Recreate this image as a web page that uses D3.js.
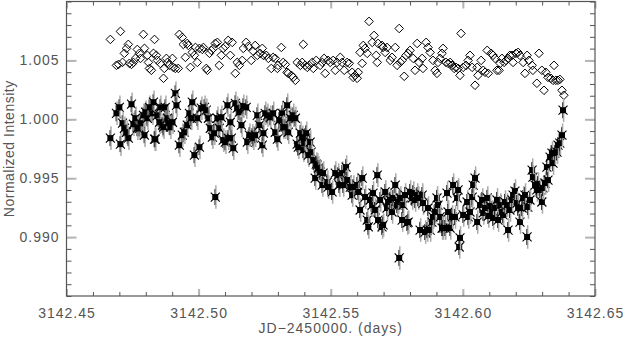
<!DOCTYPE html>
<html>
<head>
<meta charset="utf-8">
<script src="https://cdn.jsdelivr.net/npm/d3@7"></script>
<style>
  body { margin: 0; background: #fff; }
  svg { display: block; }
  text { font-family: "Liberation Sans", Arial, sans-serif; fill: #555; }
</style>
</head>
<body>
<svg id="chart" width="623" height="337"></svg>
<script>
// target star: [JD-2450000, normalized intensity]
var targetObs = [
  [3142.4666,0.99840],[3142.4689,1.00051],[3142.4700,1.00102],[3142.4704,0.99789],[3142.4712,0.99967],
  [3142.4719,0.99924],[3142.4727,0.99890],[3142.4734,0.99840],[3142.4746,1.00128],[3142.4753,0.99958],
  [3142.4761,1.00009],[3142.4768,0.99924],[3142.4776,0.99924],[3142.4780,0.99967],[3142.4791,1.00034],
  [3142.4795,0.99865],[3142.4799,1.00060],[3142.4806,1.00009],[3142.4814,1.00102],[3142.4825,1.00051],
  [3142.4829,1.00145],[3142.4833,0.99831],[3142.4836,0.99831],[3142.4844,1.00034],[3142.4852,0.99975],
  [3142.4855,1.00102],[3142.4863,0.99950],[3142.4867,0.99933],[3142.4874,1.00102],[3142.4882,1.00009],
  [3142.4886,0.99967],[3142.4893,0.99933],[3142.4901,0.99975],[3142.4912,1.00221],[3142.4916,1.00119],
  [3142.4927,0.99780],[3142.4938,0.99865],[3142.4946,0.99890],[3142.4957,0.99950],[3142.4965,1.00051],
  [3142.4972,1.00009],[3142.4976,1.00145],[3142.4984,0.99696],[3142.4995,1.00009],[3142.5003,0.99763],
  [3142.5010,1.00094],[3142.5022,1.00102],[3142.5029,1.00077],[3142.5037,1.00009],[3142.5044,0.99924],
  [3142.5052,0.99848],[3142.5059,0.99882],[3142.5063,0.99340],[3142.5071,1.00009],[3142.5078,0.99924],
  [3142.5086,1.00017],[3142.5093,0.99823],[3142.5101,0.99806],[3142.5109,1.00119],[3142.5112,0.99840],
  [3142.5120,0.99975],[3142.5124,0.99840],[3142.5131,0.99755],[3142.5139,1.00136],[3142.5146,1.00094],
  [3142.5154,1.00060],[3142.5162,0.99950],[3142.5169,1.00111],[3142.5180,1.00102],[3142.5184,0.99806],
  [3142.5192,0.99865],[3142.5203,0.99857],[3142.5207,0.99840],[3142.5214,0.99865],[3142.5222,1.00034],
  [3142.5230,0.99950],[3142.5241,0.99780],[3142.5245,0.99882],[3142.5252,1.00051],[3142.5260,1.00034],
  [3142.5271,1.00017],[3142.5282,1.00051],[3142.5290,0.99890],[3142.5298,0.99831],[3142.5305,0.99992],
  [3142.5316,1.00051],[3142.5320,0.99933],[3142.5328,0.99933],[3142.5335,1.00119],[3142.5339,0.99890],
  [3142.5347,1.00009],[3142.5358,1.00034],[3142.5366,1.00009],[3142.5373,0.99789],[3142.5377,0.99763],
  [3142.5385,0.99882],[3142.5392,0.99848],[3142.5396,0.99738],[3142.5400,0.99797],[3142.5403,0.99840],
  [3142.5407,0.99882],[3142.5415,0.99696],[3142.5422,0.99806],[3142.5426,0.99721],[3142.5434,0.99653],
  [3142.5441,0.99501],[3142.5445,0.99620],[3142.5449,0.99611],[3142.5453,0.99586],[3142.5460,0.99552],
  [3142.5468,0.99442],[3142.5471,0.99543],[3142.5487,0.99467],[3142.5490,0.99425],[3142.5505,0.99383],
  [3142.5517,0.99543],[3142.5528,0.99526],[3142.5532,0.99442],[3142.5543,0.99543],[3142.5547,0.99442],
  [3142.5558,0.99594],[3142.5562,0.99484],[3142.5574,0.99425],[3142.5581,0.99357],[3142.5585,0.99425],
  [3142.5600,0.99442],[3142.5604,0.99383],[3142.5611,0.99230],[3142.5619,0.99501],[3142.5630,0.99340],
  [3142.5638,0.99145],[3142.5642,0.99086],[3142.5649,0.99315],[3142.5657,0.99272],[3142.5660,0.99374],
  [3142.5668,0.99230],[3142.5676,0.99526],[3142.5679,0.99145],[3142.5687,0.99315],[3142.5694,0.99086],
  [3142.5698,0.99103],[3142.5706,0.99383],[3142.5713,0.99247],[3142.5717,0.99298],[3142.5725,0.99315],
  [3142.5732,0.99213],[3142.5736,0.99332],[3142.5744,0.99442],[3142.5751,0.99272],[3142.5755,0.99298],
  [3142.5759,0.98823],[3142.5763,0.99332],[3142.5770,0.99145],[3142.5774,0.99272],[3142.5781,0.99357],
  [3142.5789,0.99120],[3142.5793,0.99128],[3142.5800,0.99383],[3142.5808,0.99332],[3142.5812,0.99374],
  [3142.5819,0.99315],[3142.5827,0.99357],[3142.5831,0.99332],[3142.5838,0.99060],[3142.5846,0.99357],
  [3142.5849,0.99289],[3142.5857,0.99043],[3142.5865,0.99060],[3142.5868,0.99247],[3142.5876,0.99060],
  [3142.5883,0.99128],[3142.5887,0.99171],[3142.5895,0.99213],[3142.5902,0.99332],[3142.5906,0.99272],
  [3142.5914,0.99171],[3142.5921,0.99077],[3142.5925,0.99077],[3142.5933,0.99077],[3142.5940,0.99374],
  [3142.5944,0.99213],[3142.5952,0.99077],[3142.5959,0.99171],[3142.5963,0.99442],[3142.5970,0.99171],
  [3142.5978,0.99332],[3142.5982,0.99400],[3142.5986,0.98916],[3142.5989,0.98993],[3142.6001,0.99188],
  [3142.6016,0.99298],[3142.6020,0.99171],[3142.6027,0.99213],[3142.6035,0.99340],[3142.6039,0.99442],
  [3142.6046,0.99501],[3142.6054,0.99128],[3142.6065,0.99272],[3142.6073,0.99315],[3142.6077,0.99205],
  [3142.6084,0.99247],[3142.6092,0.99332],[3142.6096,0.99179],[3142.6103,0.99264],[3142.6111,0.99213],
  [3142.6114,0.99162],[3142.6122,0.99247],[3142.6129,0.99315],[3142.6133,0.99145],[3142.6141,0.99272],
  [3142.6148,0.99213],[3142.6152,0.99188],[3142.6159,0.99298],[3142.6167,0.99272],[3142.6171,0.99060],
  [3142.6178,0.99230],[3142.6186,0.99315],[3142.6190,0.99357],[3142.6197,0.99391],[3142.6205,0.99289],
  [3142.6209,0.99247],[3142.6216,0.99128],[3142.6224,0.99247],[3142.6228,0.99332],[3142.6235,0.99357],
  [3142.6243,0.99001],[3142.6246,0.99255],[3142.6254,0.99315],[3142.6262,0.99569],[3142.6265,0.99509],
  [3142.6273,0.99442],[3142.6280,0.99400],[3142.6284,0.99450],[3142.6292,0.99400],[3142.6299,0.99298],
  [3142.6303,0.99417],[3142.6311,0.99459],[3142.6318,0.99594],[3142.6322,0.99484],[3142.6330,0.99679],
  [3142.6337,0.99713],[3142.6341,0.99628],[3142.6348,0.99713],[3142.6356,0.99721],[3142.6360,0.99780],
  [3142.6367,0.99797],[3142.6375,0.99865],[3142.6379,1.00077]
];

// comparison star (offset), [JD-2450000, normalized intensity]
var compObs = [
  [3142.4666,1.00678],[3142.4689,1.00458],[3142.4697,1.00466],[3142.4704,1.00746],[3142.4712,1.00483],
  [3142.4719,1.00560],[3142.4727,1.00602],[3142.4734,1.00636],[3142.4738,1.00475],[3142.4746,1.00466],
  [3142.4753,1.00483],[3142.4761,1.00517],[3142.4768,1.00593],[3142.4776,1.00560],[3142.4780,1.00517],
  [3142.4791,1.00721],[3142.4795,1.00602],[3142.4806,1.00543],[3142.4810,1.00483],[3142.4814,1.00432],
  [3142.4821,1.00416],[3142.4829,1.00560],[3142.4833,1.00678],[3142.4840,1.00543],[3142.4844,1.00500],
  [3142.4855,1.00475],[3142.4867,1.00348],[3142.4870,1.00432],[3142.4878,1.00517],[3142.4882,1.00483],
  [3142.4889,1.00458],[3142.4901,1.00517],[3142.4904,1.00441],[3142.4912,1.00432],[3142.4923,1.00432],
  [3142.4927,1.00721],[3142.4938,1.00695],[3142.4942,1.00636],[3142.4950,1.00526],[3142.4957,1.00644],
  [3142.4961,1.00627],[3142.4969,1.00441],[3142.4976,1.00568],[3142.4984,1.00543],[3142.4988,1.00610],
  [3142.4995,1.00483],[3142.5003,1.00602],[3142.5014,1.00593],[3142.5018,1.00610],[3142.5029,1.00432],
  [3142.5033,1.00416],[3142.5041,1.00560],[3142.5048,1.00585],[3142.5056,1.00602],[3142.5063,1.00644],
  [3142.5071,1.00653],[3142.5078,1.00458],[3142.5086,1.00543],[3142.5093,1.00602],[3142.5101,1.00619],
  [3142.5112,1.00670],[3142.5120,1.00543],[3142.5127,1.00653],[3142.5139,1.00390],[3142.5146,1.00483],
  [3142.5154,1.00458],[3142.5165,1.00500],[3142.5169,1.00602],[3142.5180,1.00653],[3142.5188,1.00619],
  [3142.5199,1.00500],[3142.5207,1.00577],[3142.5214,1.00627],[3142.5222,1.00543],[3142.5233,1.00560],
  [3142.5241,1.00602],[3142.5245,1.00543],[3142.5256,1.00543],[3142.5264,1.00517],[3142.5275,1.00432],
  [3142.5282,1.00526],[3142.5290,1.00517],[3142.5298,1.00432],[3142.5301,1.00458],[3142.5313,1.00610],
  [3142.5320,1.00483],[3142.5328,1.00466],[3142.5335,1.00399],[3142.5339,1.00390],[3142.5351,1.00373],
  [3142.5358,1.00356],[3142.5366,1.00331],[3142.5373,1.00483],[3142.5385,1.00458],[3142.5392,1.00483],
  [3142.5396,1.00636],[3142.5403,1.00458],[3142.5411,1.00441],[3142.5419,1.00458],[3142.5430,1.00483],
  [3142.5434,1.00432],[3142.5445,1.00500],[3142.5460,1.00458],[3142.5468,1.00483],[3142.5475,1.00517],
  [3142.5479,1.00390],[3142.5490,1.00500],[3142.5498,1.00483],[3142.5509,1.00500],[3142.5517,1.00416],
  [3142.5524,1.00483],[3142.5536,1.00526],[3142.5543,1.00483],[3142.5551,1.00416],[3142.5562,1.00483],
  [3142.5570,1.00475],[3142.5581,1.00399],[3142.5585,1.00356],[3142.5592,1.00373],[3142.5600,1.00348],
  [3142.5604,1.00399],[3142.5611,1.00568],[3142.5619,1.00475],[3142.5623,1.00627],[3142.5630,1.00602],
  [3142.5638,1.00560],[3142.5645,1.00831],[3142.5657,1.00653],[3142.5664,1.00712],[3142.5672,1.00543],
  [3142.5676,1.00483],[3142.5679,1.00644],[3142.5694,1.00627],[3142.5698,1.00610],[3142.5706,1.00568],
  [3142.5713,1.00610],[3142.5725,1.00500],[3142.5732,1.00526],[3142.5744,1.00610],[3142.5751,1.00458],
  [3142.5759,1.00771],[3142.5763,1.00483],[3142.5770,1.00500],[3142.5778,1.00365],[3142.5785,1.00543],
  [3142.5793,1.00560],[3142.5800,1.00585],[3142.5812,1.00517],[3142.5819,1.00416],[3142.5827,1.00644],
  [3142.5834,1.00483],[3142.5846,1.00517],[3142.5849,1.00432],[3142.5861,1.00653],[3142.5868,1.00610],
  [3142.5876,1.00568],[3142.5887,1.00500],[3142.5895,1.00416],[3142.5902,1.00390],[3142.5906,1.00483],
  [3142.5914,1.00517],[3142.5921,1.00560],[3142.5925,1.00602],[3142.5936,1.00483],[3142.5944,1.00475],
  [3142.5952,1.00483],[3142.5959,1.00458],[3142.5967,1.00432],[3142.5974,1.00441],[3142.5982,1.00432],
  [3142.5989,1.00373],[3142.5993,1.00729],[3142.6001,1.00441],[3142.6012,1.00458],[3142.6020,1.00500],
  [3142.6027,1.00543],[3142.6035,1.00441],[3142.6046,1.00289],[3142.6054,1.00441],[3142.6057,1.00373],
  [3142.6069,1.00500],[3142.6077,1.00416],[3142.6084,1.00399],[3142.6092,1.00585],[3142.6096,1.00390],
  [3142.6107,1.00560],[3142.6114,1.00543],[3142.6122,1.00517],[3142.6129,1.00416],[3142.6137,1.00416],
  [3142.6141,1.00475],[3142.6148,1.00517],[3142.6156,1.00483],[3142.6163,1.00500],[3142.6171,1.00517],
  [3142.6178,1.00543],[3142.6186,1.00543],[3142.6190,1.00483],[3142.6201,1.00560],[3142.6209,1.00568],
  [3142.6216,1.00543],[3142.6228,1.00483],[3142.6235,1.00390],[3142.6243,1.00543],[3142.6250,1.00500],
  [3142.6262,1.00458],[3142.6265,1.00416],[3142.6280,1.00306],[3142.6288,1.00560],[3142.6299,1.00416],
  [3142.6307,1.00246],[3142.6314,1.00399],[3142.6322,1.00356],[3142.6333,1.00348],[3142.6341,1.00331],
  [3142.6345,1.00458],[3142.6352,1.00331],[3142.6360,1.00331],[3142.6367,1.00339],[3142.6375,1.00246],
  [3142.6382,1.00204]
];

var errBar = 0.0010;   // typical 1-sigma of the target points

var xMajor = [3142.45, 3142.50, 3142.55, 3142.60, 3142.65];
var yMajor = [0.990, 0.995, 1.000, 1.005];
var xLabel = "JD\u22122450000. (days)";
var yLabel = "Normalized Intensity";

var svg = d3.select("#chart"),
    plotL = 66.5, plotR = 595, plotT = 1.5, plotB = 296;

var x = d3.scaleLinear().domain([3142.45, 3142.65]).range([plotL, plotR]);
var y = d3.scaleLinear().domain([0.985, 1.010]).range([plotB, plotT]);

var xMinor = d3.range(0, 21).map(function(i) { return 3142.45 + i * 0.01; });
var yMinor = d3.range(0, 26).map(function(i) { return 0.985 + i * 0.001; });

function drawAxis(axis, tx, ty, cls) {
    var g = svg.append("g")
        .attr("class", cls)
        .attr("transform", "translate(" + tx + "," + ty + ")")
        .call(axis);
    g.select(".domain").remove();
    return g;
}

// minor ticks (dark, short)
drawAxis(d3.axisBottom(x).tickValues(xMinor).tickSize(-4).tickFormat(""), 0, plotB, "minor");
drawAxis(d3.axisTop(x).tickValues(xMinor).tickSize(-4).tickFormat(""), 0, plotT, "minor");
drawAxis(d3.axisLeft(y).tickValues(yMinor).tickSize(-5).tickFormat(""), plotL, 0, "minor");
drawAxis(d3.axisRight(y).tickValues(yMinor).tickSize(-5).tickFormat(""), plotR, 0, "minor");

// major ticks (light grey, longer) with labels
drawAxis(d3.axisBottom(x).tickValues(xMajor).tickSize(-7).tickPadding(12)
    .tickFormat(d3.format(".2f")), 0, plotB, "major");
drawAxis(d3.axisTop(x).tickValues(xMajor).tickSize(-7).tickFormat(""), 0, plotT, "major");
drawAxis(d3.axisLeft(y).tickValues(yMajor).tickSize(-10).tickPadding(7)
    .tickFormat(d3.format(".3f")), plotL, 0, "major");
drawAxis(d3.axisRight(y).tickValues(yMajor).tickSize(-10).tickFormat(""), plotR, 0, "major");

svg.selectAll(".minor line").attr("stroke", "#555").attr("stroke-width", 1);
svg.selectAll(".major line").attr("stroke", "#b4b4b4").attr("stroke-width", 2);
svg.selectAll(".major text")
    .attr("fill", "#555")
    .style("font-size", "14px")
    .style("letter-spacing", "1px")
    .style("font-family", "'Liberation Sans', Arial, sans-serif");

// frame
svg.append("rect")
    .attr("x", plotL).attr("y", plotT)
    .attr("width", plotR - plotL).attr("height", plotB - plotT)
    .attr("fill", "none").attr("stroke", "#555").attr("stroke-width", 1.2);

// comparison star: open diamonds
svg.append("g")
    .selectAll("path")
    .data(compObs)
    .enter().append("path")
        .attr("transform", function(d) { return "translate(" + x(d[0]) + "," + y(d[1]) + ")"; })
        .attr("d", "M0,-4.3L4.3,0L0,4.3L-4.3,0Z")
        .attr("fill", "none")
        .attr("stroke", "#000")
        .attr("stroke-width", 1);

// target star: error bars + asterisk with filled square
var pts = svg.append("g")
    .selectAll("g")
    .data(targetObs)
    .enter().append("g");

pts.append("line")
    .attr("x1", function(d) { return x(d[0]) + 0.6; })
    .attr("x2", function(d) { return x(d[0]) + 0.6; })
    .attr("y1", function(d) { return y(d[1] - errBar); })
    .attr("y2", function(d) { return y(d[1] + errBar); })
    .attr("stroke", "#aaa")
    .attr("stroke-width", 1.5);

pts.append("line")
    .attr("x1", function(d) { return x(d[0]) - 0.4; })
    .attr("x2", function(d) { return x(d[0]) - 0.4; })
    .attr("y1", function(d) { return y(d[1]) - 8; })
    .attr("y2", function(d) { return y(d[1]) + 8; })
    .attr("stroke", "#222")
    .attr("stroke-width", 0.9);

pts.append("path")
    .attr("transform", function(d) { return "translate(" + x(d[0]) + "," + y(d[1]) + ")"; })
    .attr("d", "M-4.5,-4.5L4.5,4.5M-4.5,4.5L4.5,-4.5")
    .attr("stroke", "#000")
    .attr("stroke-width", 1.1);

pts.append("rect")
    .attr("x", function(d) { return x(d[0]) - 3; })
    .attr("y", function(d) { return y(d[1]) - 3; })
    .attr("width", 6).attr("height", 6)
    .attr("fill", "#000");

// axis titles
svg.append("text")
    .attr("x", (plotL + plotR) / 2)
    .attr("y", 333)
    .attr("text-anchor", "middle")
    .style("font-size", "14px")
    .style("letter-spacing", "1px")
    .text(xLabel);

svg.append("text")
    .attr("transform", "translate(14," + ((plotT + plotB) / 2) + ") rotate(-90)")
    .attr("text-anchor", "middle")
    .style("font-size", "14px")
    .style("letter-spacing", "0.5px")
    .text(yLabel);
</script>
</body>
</html>
